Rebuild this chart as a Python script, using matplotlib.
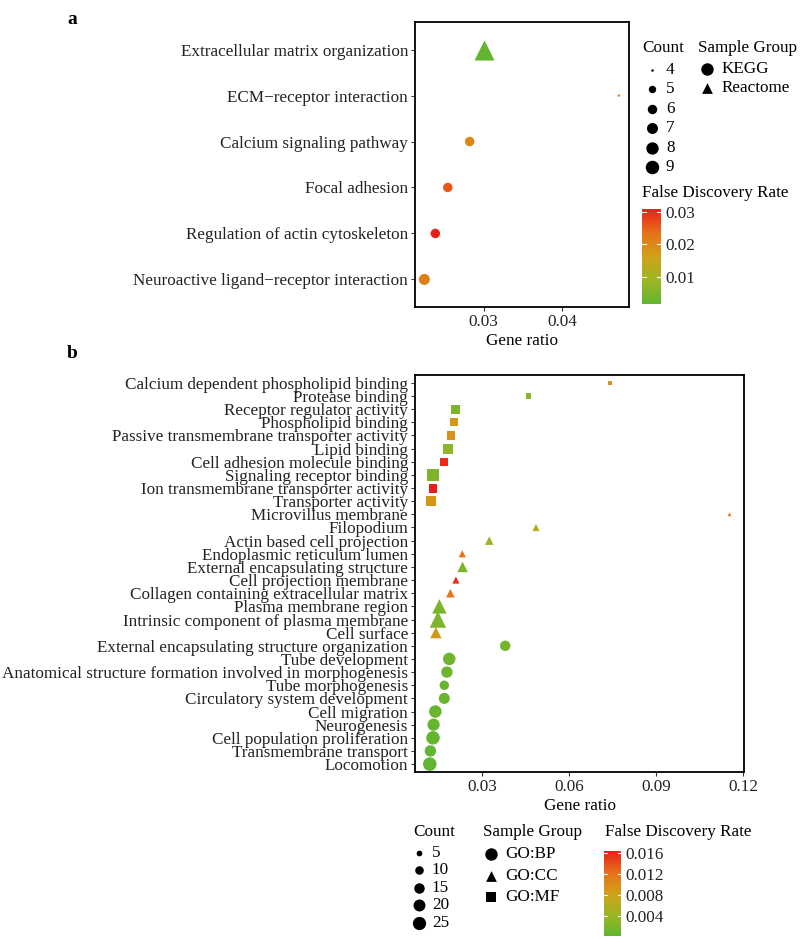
import numpy as np
import matplotlib
matplotlib.use("Agg")
import matplotlib.pyplot as plt
from matplotlib import rcParams
from matplotlib.colors import LinearSegmentedColormap, Normalize
from matplotlib.cm import ScalarMappable

rcParams["font.family"] = ["Liberation Serif", "DejaVu Serif"]
rcParams["font.size"] = 12.3

# -----------------------------------------------------------------------------
# Data
# -----------------------------------------------------------------------------

# panel a
a_terms = [
    "Extracellular matrix organization",
    "ECM\u2212receptor interaction",
    "Calcium signaling pathway",
    "Focal adhesion",
    "Regulation of actin cytoskeleton",
    "Neuroactive ligand\u2212receptor interaction",
]
a_ratio = [0.0300, 0.0473, 0.0282, 0.0254, 0.0238, 0.0224]
a_count = [9, 4, 6, 6, 6, 7]
a_fdr = [0.0017, 0.021, 0.020, 0.026, 0.0309, 0.021]
a_group = ["Reactome", "KEGG", "KEGG", "KEGG", "KEGG", "KEGG"]

# panel b
b_terms = [
    "Calcium dependent phospholipid binding",
    "Protease binding",
    "Receptor regulator activity",
    "Phospholipid binding",
    "Passive transmembrane transporter activity",
    "Lipid binding",
    "Cell adhesion molecule binding",
    "Signaling receptor binding",
    "Ion transmembrane transporter activity",
    "Transporter activity",
    "Microvillus membrane",
    "Filopodium",
    "Actin based cell projection",
    "Endoplasmic reticulum lumen",
    "External encapsulating structure",
    "Cell projection membrane",
    "Collagen containing extracellular matrix",
    "Plasma membrane region",
    "Intrinsic component of plasma membrane",
    "Cell surface",
    "External encapsulating structure organization",
    "Tube development",
    "Anatomical structure formation involved in morphogenesis",
    "Tube morphogenesis",
    "Circulatory system development",
    "Cell migration",
    "Neurogenesis",
    "Cell population proliferation",
    "Transmembrane transport",
    "Locomotion",
]
b_ratio = [0.0741, 0.0460, 0.0209, 0.0202, 0.0192, 0.0184, 0.0169, 0.0132,
           0.0131, 0.0123, 0.1153, 0.0486, 0.0325, 0.0232, 0.0233, 0.0210,
           0.0191, 0.0153, 0.0148, 0.0141, 0.0380, 0.0187, 0.0179, 0.0170,
           0.0170, 0.0139, 0.0133, 0.0131, 0.0122, 0.0120]
b_count = [4, 5, 12, 10, 10, 15, 10, 22, 12, 15,
           3, 4, 5, 4, 7, 4, 5, 13, 17, 8,
           15, 22, 18, 12, 17, 22, 21, 26, 18, 26]
b_fdr = [0.009, 0.003, 0.002, 0.009, 0.0095, 0.003, 0.0158, 0.002, 0.0164, 0.0092,
         0.012, 0.006, 0.004, 0.012, 0.002, 0.0158, 0.012, 0.002, 0.002, 0.009,
         0.0015, 0.0012, 0.001, 0.0008, 0.0008, 0.0006, 0.0005, 0.0004, 0.0003, 0.0002]
b_group = ["GO:MF"] * 10 + ["GO:CC"] * 10 + ["GO:BP"] * 10

a_size_breaks = [4, 5, 6, 7, 8, 9]
b_size_breaks = [5, 10, 15, 20, 25]
a_fdr_ticks = [0.01, 0.02, 0.03]
b_fdr_ticks = [0.004, 0.008, 0.012, 0.016]

# -----------------------------------------------------------------------------
# Style helpers
# -----------------------------------------------------------------------------

W, H = 800, 939
fdr_cmap = LinearSegmentedColormap.from_list(
    "fdr", ["#62b530", "#9db623", "#d0a117", "#e6701a", "#e8201c"])
shape_marker = {"KEGG": "o", "Reactome": "^", "GO:BP": "o", "GO:CC": "^", "GO:MF": "s"}
shape_scale = {"o": 1.0, "^": 2.2, "s": 0.9}


def marker_area(count, cmin, cmax, marker="o", dmin=2.5, dmax=13.5):
    # ggplot-like area scale: diameter grows with sqrt of the rescaled count
    frac = np.sqrt((count - cmin) / (cmax - cmin))
    d_px = dmin + frac * (dmax - dmin)
    return (d_px * 0.72) ** 2 * shape_scale[marker]


def px_axes(fig, x0, y0, x1, y1):
    return fig.add_axes([x0 / W, 1 - y1 / H, (x1 - x0) / W, (y1 - y0) / H])


def dot_panel(ax, terms, ratio, count, fdr, group, cmin, cmax, norm, xticks, xlim):
    ypos = np.arange(len(terms))
    for mk in dict.fromkeys(shape_marker[g] for g in group):
        idx = [i for i, g in enumerate(group) if shape_marker[g] == mk]
        ax.scatter([ratio[i] for i in idx], ypos[idx],
                   s=[marker_area(count[i], cmin, cmax, mk) for i in idx],
                   c=[fdr[i] for i in idx], cmap=fdr_cmap, norm=norm,
                   marker=mk, linewidths=0, zorder=3)
    ax.set_yticks(ypos)
    ax.set_yticklabels(terms)
    ax.set_ylim(len(terms) - 0.4, -0.6)
    ax.set_xlim(*xlim)
    ax.set_xticks(xticks)
    ax.set_xticklabels([f"{t:g}" for t in xticks])
    ax.set_xlabel("Gene ratio", labelpad=2)
    for sp in ax.spines.values():
        sp.set_linewidth(1.3)
    ax.tick_params(length=3, width=0.8, color="#333333", labelcolor="#222222", pad=2)


def fdr_bar(fig, box, norm, ticks):
    cax = px_axes(fig, *box)
    cb = fig.colorbar(ScalarMappable(norm=norm, cmap=fdr_cmap), cax=cax)
    cb.outline.set_visible(False)
    cb.set_ticks(ticks)
    cb.set_ticklabels([f"{t:g}" for t in ticks])
    cax.tick_params(length=0, pad=3, labelcolor="#222222")
    tr = cax.get_yaxis_transform()
    for t in ticks:
        cax.plot([0, 0.2], [t, t], color="white", lw=0.8, transform=tr)
        cax.plot([0.8, 1], [t, t], color="white", lw=0.8, transform=tr)


# -----------------------------------------------------------------------------
# Figure
# -----------------------------------------------------------------------------

fig = plt.figure(figsize=(W / 100, H / 100), dpi=100)
lay = fig.add_axes([0, 0, 1, 1])
lay.set_xlim(0, W)
lay.set_ylim(H, 0)
lay.axis("off")

norm_a = Normalize(min(a_fdr), max(a_fdr))
norm_b = Normalize(min(b_fdr), max(b_fdr))

ax_a = px_axes(fig, 415, 22, 629, 307)
dot_panel(ax_a, a_terms, a_ratio, a_count, a_fdr, a_group,
          min(a_count), max(a_count), norm_a, [0.03, 0.04], (0.0212, 0.0486))
ax_b = px_axes(fig, 415, 375, 744, 772)
dot_panel(ax_b, b_terms, b_ratio, b_count, b_fdr, b_group,
          min(b_count), max(b_count), norm_b, [0.03, 0.06, 0.09, 0.12], (0.0069, 0.1203))

lay.text(67, 19, "a", fontsize=14, fontweight="bold", va="center")
lay.text(67, 353, "b", fontsize=14, fontweight="bold", va="center")

# legends, panel a
lay.text(642, 48, "Count", va="center")
for k, c in enumerate(a_size_breaks):
    y = 70 + k * 19.4
    lay.scatter(652, y, s=marker_area(c, min(a_count), max(a_count)), c="black", linewidths=0)
    lay.text(666, y, str(c), va="center")
lay.text(698, 48, "Sample Group", va="center")
for k, g in enumerate(["KEGG", "Reactome"]):
    y = 69 + k * 19.4
    mk = shape_marker[g]
    lay.scatter(707, y, s=80 * (0.75 if mk == "^" else 1), marker=mk, c="black", linewidths=0)
    lay.text(722, y, g, va="center")
lay.text(642, 193, "False Discovery Rate", va="center")
fdr_bar(fig, (642, 209, 661, 304), norm_a, a_fdr_ticks)

# legends, panel b
lay.text(413, 832, "Count", va="center")
for k, c in enumerate(b_size_breaks):
    y = 853 + k * 17.4
    lay.scatter(419, y, s=marker_area(c, min(b_count), max(b_count)), c="black", linewidths=0)
    lay.text(432, y, str(c), va="center")
lay.text(483, 832, "Sample Group", va="center")
for k, g in enumerate(["GO:BP", "GO:CC", "GO:MF"]):
    y = 854 + k * 21.5
    mk = shape_marker[g]
    lay.scatter(491, y, s=80 * (0.75 if mk != "o" else 1), marker=mk, c="black", linewidths=0)
    lay.text(505, y, g, va="center")
lay.text(605, 832, "False Discovery Rate", va="center")
fdr_bar(fig, (604, 851, 621, 936), norm_b, b_fdr_ticks)

fig.savefig("out.png", dpi=100)
